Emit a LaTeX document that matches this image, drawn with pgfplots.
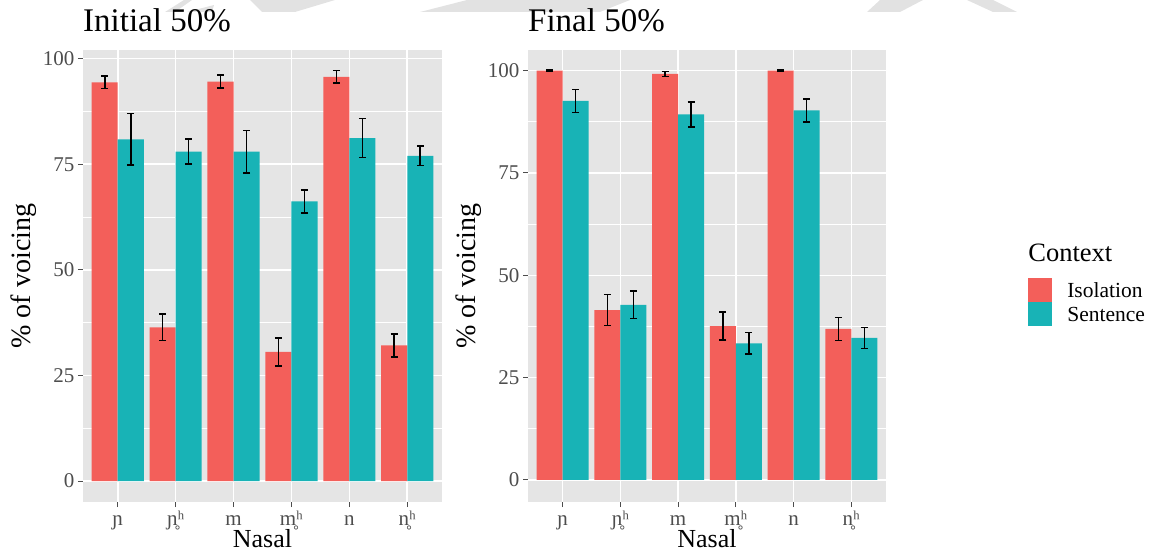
\documentclass[border=0pt]{standalone}
\usepackage{pgfplots}
\pgfplotsset{compat=1.18}
\usepackage{pgfplotstable}
\usepackage{fontspec}
\setmainfont{Liberation Serif}

\definecolor{iso}{HTML}{F35F5A}
\definecolor{sen}{HTML}{18B3B6}
\definecolor{panel}{HTML}{E5E5E5}
\definecolor{tickgrey}{HTML}{4D4D4D}
\definecolor{wmgrey}{HTML}{E2E2E2}

% mean % voicing and error half-width, word-initial nasals
\pgfplotstableread{
x iso isoerr sen senerr
1 94.4 1.5 80.9 6.1
2 36.4 3.1 78.0 3.0
3 94.6 1.6 78.0 5.0
4 30.6 3.3 66.2 2.7
5 95.7 1.5 81.2 4.6
6 32.1 2.7 77.0 2.3
}\initialdata

% mean % voicing and error half-width, word-final nasals
\pgfplotstableread{
x iso isoerr sen senerr
1 100.0 0.1 92.6 2.8
2 41.5 3.8 42.8 3.3
3 99.2 0.6 89.3 3.0
4 37.6 3.4 33.4 2.6
5 100.0 0.1 90.3 2.8
6 36.9 2.8 34.7 2.6
}\finaldata

\pgfplotsset{
  ggpanel/.style={
    scale only axis, height=452pt,
    xmin=0.4, xmax=6.6,
    xtick={1,...,6},
    xticklabels={ɲ, ɲ̥ʰ, m, m̥ʰ, n, n̥ʰ},
    ytick={0,25,50,75,100},
    minor ytick={12.5,37.5,62.5,87.5},
    xmajorgrids=true, ymajorgrids=true, yminorgrids=true,
    major grid style={white, line width=1.6pt},
    minor grid style={white, line width=0.8pt},
    axis line style={draw=none},
    axis background/.style={fill=panel},
    tick pos=left, tick align=outside,
    major tick length=5pt, minor tick length=0pt,
    tick style={tickgrey, line width=1pt},
    ticklabel style={font=\fontsize{21}{25}\selectfont, text=tickgrey},
    xticklabel style={anchor=base, yshift=-18pt, inner sep=0pt},
    /pgf/number format/assume math mode=true,
    xlabel={Nasal}, ylabel={\% of voicing},
    xlabel style={at={(axis description cs:0.5,0)}, anchor=base,
      yshift=-45pt, inner sep=0pt, font=\fontsize{26}{30}\selectfont},
    ylabel style={font=\fontsize{28}{32}\selectfont},
    title style={at={(axis description cs:0,1)}, anchor=base west,
      yshift=12pt, inner sep=0pt, font=\fontsize{33}{38}\selectfont},
    ybar, bar width=0.45,
  },
  ggbar/.style={
    fill=#1, draw=none,
    error bars/.cd, y dir=both, y explicit,
    error bar style={black, line width=1.6pt},
    error mark options={black, line width=1.6pt, mark size=3.5pt, rotate=90},
    /pgfplots/.cd,
  },
  ggkey/.style={
    legend image code/.code={\fill[##1] (0pt,-12pt) rectangle (24pt,12pt);}
  },
}

\begin{document}
\begin{tikzpicture}
\path[use as bounding box] (0,0) rectangle (1151pt,552pt);

% faint page watermark along the top edge
\fill[wmgrey] (165pt,540pt) -- (175pt,540pt) -- (192pt,552pt) -- (184pt,552pt) -- cycle;
\fill[wmgrey] (187pt,540pt) -- (212pt,540pt) -- (214pt,547pt) -- cycle;
\fill[wmgrey] (250pt,552pt) -- (335pt,552pt) -- (295pt,540pt) -- (262pt,540pt) -- cycle;
\fill[wmgrey] (467pt,552pt) -- (630pt,552pt) -- (600pt,540pt) -- (420pt,540pt) -- cycle;
\fill[wmgrey] (880pt,552pt) -- (923pt,552pt) -- (900pt,540pt) -- (867pt,540pt) -- cycle;
\fill[wmgrey] (967pt,552pt) -- (993pt,552pt) -- (1017pt,540pt) -- (993pt,540pt) -- cycle;

\begin{axis}[ggpanel, at={(83pt,50pt)}, anchor=south west, width=359pt,
  ymin=-4.97, ymax=102.06, title={Initial 50\%}]
  \addplot[ggbar=iso, bar shift=-0.225]
    table[x=x, y=iso, y error=isoerr] {\initialdata};
  \addplot[ggbar=sen, bar shift=0.225]
    table[x=x, y=sen, y error=senerr] {\initialdata};
\end{axis}

\begin{axis}[ggpanel, at={(528pt,50pt)}, anchor=south west, width=358pt,
  ymin=-5.38, ymax=105.05, title={Final 50\%}, clip=false,
  legend style={at={(rel axis cs:1.397,0.4956)}, anchor=north west,
    draw=none, fill=none, inner sep=0pt, row sep=0pt, column sep=15pt,
    font=\fontsize{21.5}{24}\selectfont,
    nodes={inner sep=0pt, yshift=-1pt}},
  legend cell align=left]
  \addplot[ggbar=iso, bar shift=-0.225, ggkey]
    table[x=x, y=iso, y error=isoerr] {\finaldata};
  \addlegendentry{Isolation}
  \addplot[ggbar=sen, bar shift=0.225, ggkey]
    table[x=x, y=sen, y error=senerr] {\finaldata};
  \addlegendentry{Sentence}
  \node[anchor=base west, font=\fontsize{26.5}{32}\selectfont, inner sep=0pt]
    at (rel axis cs:1.397,0.533) {Context};
\end{axis}
\end{tikzpicture}
\end{document}
